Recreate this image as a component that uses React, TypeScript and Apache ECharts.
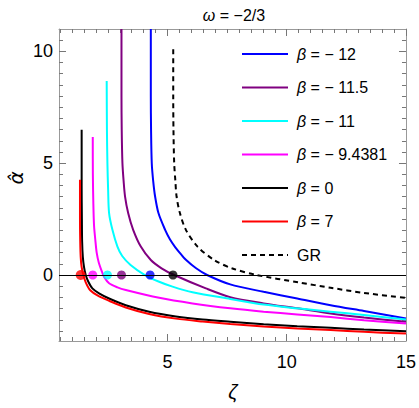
import React, { useEffect, useRef } from "react";
import * as echarts from "echarts";

const X_MIN = 0.45;
const X_MAX = 15;
const Y_MIN = -2.95;
const Y_MAX = 11;

const xMajorTicks = [5, 10, 15];
const xMinorTicks = [0.5, 1, 1.5, 2, 2.5, 3, 3.5, 4, 4.5, 5.5, 6, 6.5, 7, 7.5, 8, 8.5, 9, 9.5, 10.5, 11, 11.5, 12, 12.5, 13, 13.5, 14, 14.5];
const yMajorTicks = [0, 5, 10];
const yMinorTicks = [-2.5, -2, -1.5, -1, -0.5, 0.5, 1, 1.5, 2, 2.5, 3, 3.5, 4, 4.5, 5.5, 6, 6.5, 7, 7.5, 8, 8.5, 9, 9.5, 10.5];

// [zeta, alpha] pairs
const curveBeta12 = [[4.30, 11], [4.30, 8], [4.31, 6.5], [4.34, 5.0], [4.40, 4.2], [4.48, 3.51], [4.62, 2.77], [4.90, 2.02], [5.10, 1.6], [5.32, 1.25], [5.55, 0.95], [5.77, 0.68], [6.2, 0.3], [6.66, 0], [7.63, -0.42], [9.03, -0.75], [10.44, -1.05], [11.84, -1.35], [13.24, -1.61], [15, -1.94]];
const curveBeta115 = [[3.07, 11], [3.07, 8], [3.08, 6.5], [3.11, 5.0], [3.16, 4.2], [3.22, 3.51], [3.35, 2.77], [3.56, 2.02], [3.88, 1.27], [4.30, 0.67], [4.75, 0.3], [5.28, 0], [6.61, -0.6], [7.63, -0.99], [9.03, -1.27], [10.44, -1.49], [11.84, -1.72], [13.24, -1.90], [15, -2.09]];
const curveBeta11 = [[2.45, 8.67], [2.46, 6.5], [2.48, 5.0], [2.51, 3.8], [2.55, 2.77], [2.69, 2.02], [2.90, 1.27], [3.10, 0.85], [3.45, 0.45], [4.05, 0], [4.65, -0.3], [5.21, -0.52], [6.05, -0.77], [7.63, -1.07], [9.03, -1.32], [10.44, -1.49], [11.84, -1.64], [13.24, -1.79], [15, -1.99]];
const curveBeta94381 = [[1.866, 6.17], [1.87, 4.5], [1.89, 3.2], [1.92, 2.2], [1.97, 1.6], [2.03, 1.0], [2.12, 0.55], [2.25, 0.15], [2.35, -0.1], [2.55, -0.37], [2.9, -0.55], [3.25, -0.67], [4.65, -1.02], [6.05, -1.27], [7.63, -1.49], [9.03, -1.64], [10.44, -1.76], [11.84, -1.88], [13.24, -2.02], [15, -2.17]];
const curveBeta0 = [[1.40, 6.5], [1.40, 4], [1.41, 2.5], [1.42, 1.5], [1.45, 0.8], [1.50, 0.35], [1.57, 0], [1.68, -0.3], [1.85, -0.6], [2.13, -0.82], [2.55, -1.05], [3.25, -1.35], [4.23, -1.64], [5.35, -1.85], [6.47, -1.99], [7.63, -2.09], [9.03, -2.20], [10.44, -2.29], [11.84, -2.36], [13.24, -2.44], [15, -2.51]];
const curveBeta7 = [[1.33, 4.26], [1.33, 2.5], [1.34, 1.5], [1.36, 0.8], [1.40, 0.35], [1.47, 0], [1.58, -0.35], [1.76, -0.68], [2.08, -0.92], [2.55, -1.15], [3.25, -1.45], [4.23, -1.74], [5.35, -1.95], [6.47, -2.08], [7.63, -2.19], [9.03, -2.30], [10.44, -2.39], [11.84, -2.46], [13.24, -2.54], [15, -2.62]];
const curveGR = [[5.24, 10.09], [5.24, 8], [5.25, 6.5], [5.28, 5.0], [5.33, 4.2], [5.38, 3.51], [5.52, 2.77], [5.77, 2.02], [6.26, 1.27], [6.96, 0.67], [7.7, 0.3], [8.75, 0], [10.5, -0.33], [11.84, -0.57], [13.24, -0.80], [15, -1.02]];

const dotZeta = [1.36, 1.866, 2.48, 3.07, 4.27, 5.23];
const dotAlpha = [0, 0, 0, 0, 0, 0];
const dotColors = ["#ff0000", "#ff00ff", "#00ffff", "#800080", "#0000ff", "#000000"];
const dotSizes = [10, 9, 9, 9, 9, 9];

const legendLabels = ["− 12", "− 11.5", "− 11", "− 9.4381", "0", "7"];
const seriesColors = ["#0000ff", "#800080", "#00ffff", "#ff00ff", "#000000", "#ff0000"];
const curves = [curveBeta12, curveBeta115, curveBeta11, curveBeta94381, curveBeta0, curveBeta7];

const FONT = "Liberation Sans";
const FRAME = "#999999";
const TICK = "#777777";

function xAxisDef(position: string, ticks: number[], len: number, showLine: boolean, showLabel: boolean) {
  return {
    type: "value",
    position,
    min: X_MIN,
    max: X_MAX,
    axisLine: { show: showLine, onZero: false, lineStyle: { color: FRAME, width: 1 } },
    axisTick: { show: true, inside: true, length: len, customValues: ticks, lineStyle: { color: TICK, width: 1 } },
    axisLabel: { show: showLabel, customValues: ticks, color: "#000", fontSize: 18, fontFamily: FONT, margin: 12 },
    splitLine: { show: false },
  };
}
function yAxisDef(position: string, ticks: number[], len: number, showLine: boolean, showLabel: boolean) {
  return {
    type: "value",
    position,
    min: Y_MIN,
    max: Y_MAX,
    axisLine: { show: showLine, onZero: false, lineStyle: { color: FRAME, width: 1 } },
    axisTick: { show: true, inside: true, length: len, customValues: ticks, lineStyle: { color: TICK, width: 1 } },
    axisLabel: { show: showLabel, customValues: ticks, color: "#000", fontSize: 18, fontFamily: FONT, margin: 6 },
    splitLine: { show: false },
  };
}

export default function App() {
  const ref = useRef<HTMLDivElement>(null);
  useEffect(() => {
    document.body.style.margin = "0";
    if (!ref.current) return;
    const chart = echarts.init(ref.current, undefined, { renderer: "svg" });

    const lineSeries: any[] = curves.map((c, i) => ({
      type: "line",
      name: "β = " + legendLabels[i],
      data: c,
      xAxisIndex: 0,
      yAxisIndex: 0,
      showSymbol: false,
      symbol: "none",
      smooth: 0.3,
      clip: true,
      lineStyle: { color: seriesColors[i], width: 2 },
      z: 3,
    }));
    lineSeries.push({
      type: "line",
      name: "GR",
      data: curveGR,
      xAxisIndex: 0,
      yAxisIndex: 0,
      symbol: "none",
      smooth: 0.3,
      clip: true,
      lineStyle: { color: "#000", width: 2, type: [5, 4] },
      z: 3,
    });

    const legendGraphics: any[] = [];
    const legendY0 = 54;
    const legendStep = 33.5;
    const allLegend = legendLabels.map((l, i) => ({ text: "{b|β} = " + l, color: seriesColors[i], dashed: false }));
    allLegend.push({ text: "GR", color: "#000", dashed: true });
    allLegend.forEach((item, i) => {
      const y = legendY0 + i * legendStep;
      legendGraphics.push({
        type: "line",
        shape: { x1: 242, y1: y, x2: 288, y2: y },
        style: { stroke: item.color, lineWidth: 2, lineDash: item.dashed ? [5, 4] : null },
        z: 10,
      });
      legendGraphics.push({
        type: "text",
        x: 297,
        y: y,
        style: {
          text: item.text,
          fill: "#000",
          font: `16px "${FONT}"`,
          verticalAlign: "middle",
          rich: { b: { fontStyle: "italic", fontSize: 16, fontFamily: FONT, fill: "#000" } },
        },
        z: 10,
      });
    });

    const option: any = {
      animation: false,
      backgroundColor: "#fff",
      grid: { left: 59, right: 13, top: 29, bottom: 67, containLabel: false },
      xAxis: [
        xAxisDef("bottom", xMajorTicks, 7, true, true),
        xAxisDef("bottom", xMinorTicks, 4, false, false),
        xAxisDef("top", xMajorTicks, 7, true, false),
        xAxisDef("top", xMinorTicks, 4, false, false),
      ],
      yAxis: [
        yAxisDef("left", yMajorTicks, 7, true, true),
        yAxisDef("left", yMinorTicks, 4, false, false),
        yAxisDef("right", yMajorTicks, 7, true, false),
        yAxisDef("right", yMinorTicks, 4, false, false),
      ],
      series: [
        {
          type: "line",
          data: [],
          xAxisIndex: 0,
          yAxisIndex: 0,
          markLine: {
            silent: true,
            symbol: "none",
            label: { show: false },
            lineStyle: { color: "#000", width: 1, type: "solid" },
            data: [{ yAxis: 0 }],
          },
          z: 2,
        },
        ...lineSeries,
        {
          type: "scatter",
          xAxisIndex: 0,
          yAxisIndex: 0,
          data: dotZeta.map((z, i) => ({ value: [z, dotAlpha[i]], symbolSize: dotSizes[i], itemStyle: { color: dotColors[i] } })),
          z: 4,
        },
      ],
      graphic: [
        {
          type: "text",
          x: 234,
          y: 15,
          style: {
            text: "{i|ω} = −2/3",
            font: `16px "${FONT}"`,
            fill: "#000",
            align: "center",
            verticalAlign: "middle",
            rich: { i: { fontStyle: "italic", fontSize: 16, fontFamily: FONT, fill: "#000" } },
          },
        },
        {
          type: "text",
          x: 233,
          y: 392,
          style: {
            text: "ζ",
            font: `italic 20px "${FONT}"`,
            fill: "#000",
            align: "center",
            verticalAlign: "middle",
          },
        },
        {
          type: "text",
          x: 16,
          y: 178,
          rotation: Math.PI / 2,
          style: {
            text: "α̂",
            font: `italic 20px "DejaVu Sans"`,
            fill: "#000",
            align: "center",
            verticalAlign: "middle",
          },
        },
        ...legendGraphics,
      ],
    };
    chart.setOption(option);
    return () => chart.dispose();
  }, []);
  return <div ref={ref} style={{ width: 419, height: 408 }} />;
}
